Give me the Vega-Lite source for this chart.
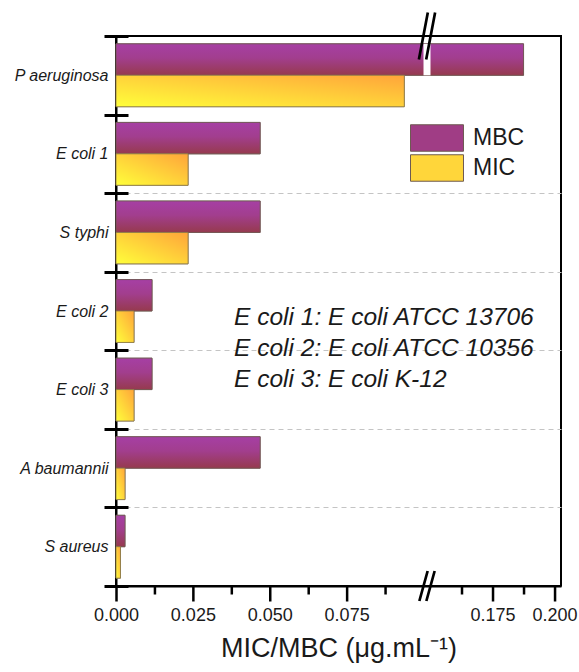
{
  "$schema": "https://vega.github.io/schema/vega-lite/v6.json",
  "width": 445,
  "height": 550,
  "autosize": "none",
  "padding": {"left": 116, "top": 36, "right": 18, "bottom": 86},
  "config": {
    "font": "Liberation Sans",
    "view": {"stroke": "black", "strokeWidth": 2},
    "axis": {"labelColor": "#1a1a1a", "titleColor": "#1a1a1a", "ticks": true, "tickOpacity": 1}
  },
  "datasets": {
    "mic": [
      {"strain": "P aeruginosa", "type": "MBC", "value": 0.1875},
      {"strain": "P aeruginosa", "type": "MIC", "value": 0.09375},
      {"strain": "E coli 1", "type": "MBC", "value": 0.046875},
      {"strain": "E coli 1", "type": "MIC", "value": 0.0234375},
      {"strain": "S typhi", "type": "MBC", "value": 0.046875},
      {"strain": "S typhi", "type": "MIC", "value": 0.0234375},
      {"strain": "E coli 2", "type": "MBC", "value": 0.01171875},
      {"strain": "E coli 2", "type": "MIC", "value": 0.005859375},
      {"strain": "E coli 3", "type": "MBC", "value": 0.01171875},
      {"strain": "E coli 3", "type": "MIC", "value": 0.005859375},
      {"strain": "A baumannii", "type": "MBC", "value": 0.046875},
      {"strain": "A baumannii", "type": "MIC", "value": 0.0029296875},
      {"strain": "S aureus", "type": "MBC", "value": 0.0029296875},
      {"strain": "S aureus", "type": "MIC", "value": 0.00146484375}
    ]
  },
  "resolve": {"axis": {"x": "independent", "y": "independent"}},
  "layer": [
    {
      "data": {"name": "mic"},
      "mark": {"type": "bar", "stroke": "#6e5a52", "strokeWidth": 0.8},
      "encoding": {
        "y": {
          "field": "strain", "type": "nominal", "sort": null,
          "scale": {"domain": ["P aeruginosa", "E coli 1", "S typhi", "E coli 2", "E coli 3", "A baumannii", "S aureus"], "paddingInner": 0, "paddingOuter": 0},
          "axis": {
            "title": null, "orient": "left", "ticks": false, "domain": true,
            "domainColor": "black", "domainWidth": 2,
            "labelFontSize": 16, "labelFontStyle": "italic", "labelPadding": 8,
            "grid": true, "tickBand": "extent", "gridColor": "#c4c4c4", "gridDash": [5, 4], "gridWidth": 1,
            "gridOpacity": {"condition": {"test": "datum.index === 0 || datum.index < 0 || datum.label === '' || datum.extra", "value": 0}, "value": 1}
          }
        },
        "yOffset": {
          "field": "type", "type": "nominal",
          "scale": {"domain": ["MBC", "MIC"], "paddingInner": 0, "paddingOuter": 0.25}
        },
        "x": {
          "field": "value", "type": "quantitative",
          "scale": {"domain": [0, 0.1, 0.15, 0.2026], "range": [0, 307.5, 314.5, 445], "nice": false, "zero": false},
          "axis": {
            "orient": "bottom",
            "title": "MIC/MBC (μg.mL⁻¹)",
            "values": [0, 0.025, 0.05, 0.075, 0.175, 0.2],
            "format": ".3f",
            "ticks": true, "tickSize": 15, "tickOpacity": 1, "tickRound": false,
            "tickWidth": 2.5, "tickColor": "#000000",
            "domainColor": "black", "domainWidth": 2,
            "labelFontSize": 18, "labelPadding": 5, "labelFlush": false, "labelOverlap": false,
            "titleFontSize": 27, "titleFontWeight": "normal", "titlePadding": 11,
            "grid": false
          }
        },
        "color": {
          "field": "type", "type": "nominal",
          "scale": {"domain": ["MBC", "MIC"], "range": ["#a03d85", "#ffd63a"]},
          "legend": {
            "title": null, "orient": "none", "legendX": 307, "legendY": 88,
            "symbolType": "M-2,-1H2V1H-2Z", "symbolSize": 702,
            "labelFontSize": 23, "labelOffset": 22, "rowPadding": -2, "padding": 0,
            "symbolStrokeColor": "#6e5a52", "symbolStrokeWidth": 1, "labelColor": "#1a1a1a"
          }
        }
      }
    },
    {
      "data": {"name": "mic"},
      "transform": [{"filter": "datum.type == 'MBC'"}],
      "mark": {"type": "bar", "stroke": "#6e5a52", "strokeWidth": 0.8,
        "fill": {"gradient": "linear", "x1": 0, "y1": 0, "x2": 0, "y2": 1, "stops": [{"offset": 0, "color": "#a63fa4"}, {"offset": 0.45, "color": "#a23e8e"}, {"offset": 1, "color": "#963a4e"}]}},
      "encoding": {
        "y": {"field": "strain", "type": "nominal", "sort": null, "axis": null},
        "yOffset": {"field": "type", "type": "nominal"},
        "x": {"field": "value", "type": "quantitative",
          "axis": {"orient": "bottom", "title": null, "labels": false, "domain": false, "grid": false,
            "values": [0.0125, 0.0375, 0.0625, 0.0875, 0.1625, 0.1875],
            "ticks": true, "tickSize": 8, "tickOpacity": 1, "tickRound": false, "tickWidth": 2.5, "tickColor": "#000000"}}
      }
    },
    {
      "data": {"name": "mic"},
      "transform": [{"filter": "datum.type == 'MIC'"}],
      "mark": {"type": "bar", "stroke": "#8a7a4a", "strokeWidth": 0.8,
        "fill": {"gradient": "linear", "x1": 0, "y1": 1, "x2": 1, "y2": 0, "stops": [{"offset": 0, "color": "#ffff3a"}, {"offset": 1, "color": "#ffa43a"}]}},
      "encoding": {
        "y": {"field": "strain", "type": "nominal", "sort": null, "axis": null},
        "yOffset": {"field": "type", "type": "nominal"},
        "x": {"field": "value", "type": "quantitative", "axis": null}
      }
    },
    {
      "data": {"values": [{}]},
      "mark": {"type": "rect", "fill": "white"},
      "encoding": {
        "x": {"datum": 0.1, "type": "quantitative", "axis": null},
        "x2": {"datum": 0.15},
        "y": {"datum": "P aeruginosa", "type": "nominal",
          "axis": {"orient": "left", "offset": -12, "title": null, "labels": false, "domain": false, "grid": false,
            "ticks": true, "tickSize": 24, "tickWidth": 3, "tickColor": "black", "tickBand": "extent"}},
        "yOffset": {"datum": "MBC", "type": "nominal"}
      }
    },
    {
      "data": {"values": [{}]},
      "mark": {"type": "point", "shape": "M-0.345,1L0.035,-1M-0.035,1L0.345,-1", "size": 2209, "filled": false, "stroke": "black", "strokeWidth": 2.7, "opacity": 1},
      "encoding": {
        "x": {"datum": 0.125, "type": "quantitative", "axis": null},
        "y": {"datum": "P aeruginosa", "type": "nominal", "bandPosition": 0, "axis": null}
      }
    },
    {
      "data": {"values": [{}]},
      "mark": {"type": "point", "shape": "M-0.51,1L0.043,-1M-0.043,1L0.51,-1", "size": 900, "filled": false, "stroke": "black", "strokeWidth": 2.7, "opacity": 1},
      "encoding": {
        "x": {"datum": 0.125, "type": "quantitative", "axis": null},
        "y": {"datum": "S aureus", "type": "nominal", "bandPosition": 1, "axis": null}
      }
    },
    {
      "data": {"values": [{}]},
      "mark": {"type": "text", "text": ["E coli 1: E coli ATCC 13706", "E coli 2: E coli ATCC 10356", "E coli 3: E coli K-12"], "align": "left", "baseline": "middle", "fontSize": 24.5, "fontStyle": "italic", "lineHeight": 31, "color": "#1a1a1a"},
      "encoding": {
        "x": {"datum": 0.0384, "type": "quantitative", "axis": null},
        "y": {"datum": "E coli 2", "type": "nominal", "bandPosition": 0.59, "axis": null}
      }
    }
  ]
}
